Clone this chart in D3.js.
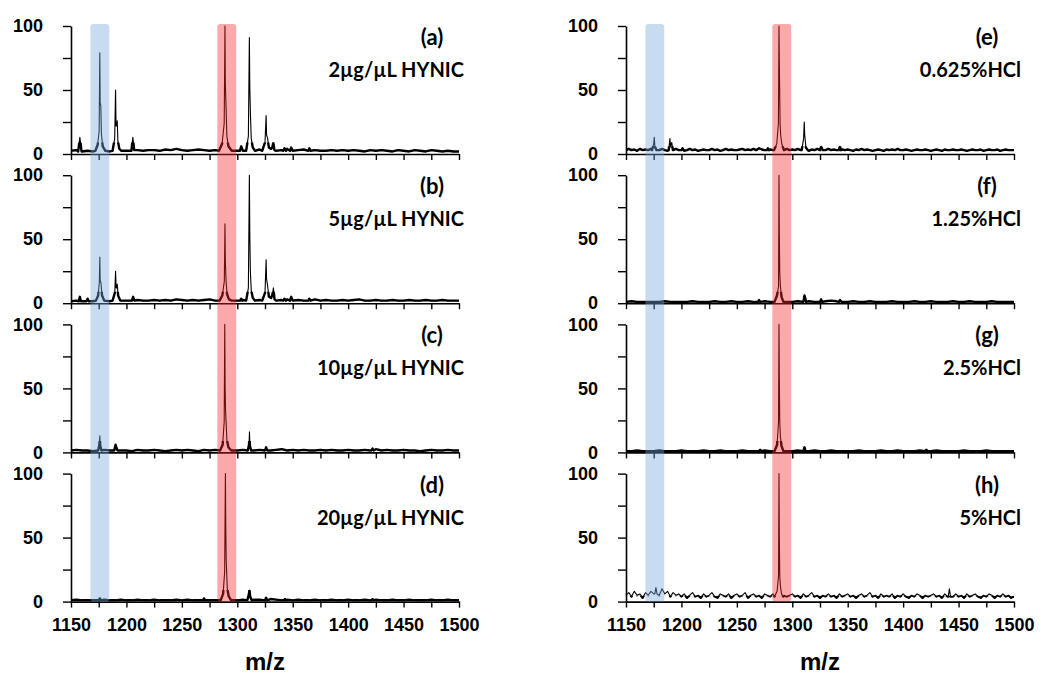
<!DOCTYPE html>
<html>
<head>
<meta charset="utf-8">
<script src="https://cdn.jsdelivr.net/npm/d3@7"></script>
<style>
  body { margin: 0; background: #fff; }
</style>
</head>
<body>
<svg id="chart" width="1041" height="675"></svg>
<script>
// ---- data ----
const xTicks = [1150,1175,1200,1225,1250,1275,1300,1325,1350,1375,1400,1425,1450,1475,1500];
const xLabels = [1150,1200,1250,1300,1350,1400,1450,1500];
const yTicks = [0,25,50,75,100];
const yLabels = [0,50,100];
const bandBlue = [1167.5, 1184.5];
const bandRed = [1282, 1299];

const panelIds = ["(a)","(b)","(c)","(d)","(e)","(f)","(g)","(h)"];
const panelNames = ["2µg/µL HYNIC","5µg/µL HYNIC","10µg/µL HYNIC","20µg/µL HYNIC",
                    "0.625%HCl","1.25%HCl","2.5%HCl","5%HCl"];

// baseline noise, evenly spaced from 1150 to 1500 (every 5 m/z, or every 2.5 for e and h)
const noiseA = [2.5,3,2,2.5,2,2.5,2,2,2.5,3, 2.5,2,3,2.5,3,3,2.5,3.5,3,4, 3,2.5,3,3.5,3,2.5,3,3.5,2.5,2.5,
  2.5,3,2.5,3,3.5,3,3.5,2.5,3,4, 2.5,3,3.5,2.5,3,2.5,2.5,3,2.5,3, 2.5,3,2.5,2,3,2.5,3,2.5,2,3, 2.5,2,3,2.5,2,3,2.5,2,2.5,2, 2];
const noiseB = [1.5,2,1.5,2,1.5,2,2,1.5,2,2, 2,1.5,2.5,2,2,2.5,2,2.5,2,3, 2.5,2,2.5,2,2.5,3,2,2.5,2,2,
  2,2.5,2,2.5,2.5,2,2.5,2,2.5,3, 2,2.5,2,2,3,2,2.5,2,2,2.5, 2,2.5,3,2,2,2.5,2,2,2.5,2, 2,2.5,2,2,2.5,2,2,2.5,2,2, 2];
const noiseC = [1.5,2,1.5,1.5,1,1.5,2,1.5,2,1.5, 1.5,1,2,1.5,1.5,2,1.5,1,1.5,2, 1.5,2,1.5,1,2,1.5,2,1.5,1,1.5,
  1.5,2,1.5,1.5,2,1.5,1.5,2,2.5,1.5, 2,1.5,2,1.5,1.5,2,1.5,2,1.5,1.5, 2,1.5,1.5,2,1.5,2.5,1.5,2,1.5,1.5, 2,1.5,1.5,1,1.5,2,1.5,1.5,2,1.5, 1.5];
const noiseD = [1,1.5,1,1,1,1,1.5,1,1,1.5, 1,1,1.5,1,1,1.5,1,1,1,1.5, 1,1.5,1,1,1.5,1,1,1.5,1,1,
  1,1.5,1,1.5,1.5,1,2,1.5,1,1.5, 1,1.5,1,1,1.5,1,1,1.5,1,1, 1.5,1,1,1.5,1,1.5,1,1,1.5,1, 1,1.5,1,1,1,1.5,1,1,1.5,1, 1];
const noiseE = [3,4,3,3.5,2.5,4,3,3.5,3,4, 3,3.5,3,4,3,2.5,3.5,3,4,3, 3.5,2.5,3,4,3,3.5,2.5,3,3.5,3,
  3,4,3,3.5,2.5,3,4,3,3.5,3, 3,3.5,4,3,3.5,3,4,3,4.5,3.5, 3,4,3.5,3,4,3,3.5,3,4,3,
  3.5,3,4,3,3.5,3,2.5,3.5,3,4, 3,3.5,3,4,3,3.5,3,4,3.5,3, 3.5,3,2.5,3.5,3,4,3,3.5,3,2.5,
  3,3.5,3,2.5,3.5,3,3.5,3,4,3, 3,3.5,3,2.5,3,3.5,3,3,3.5,3, 2.5,3,3.5,3,2.5,3.5,3,3,3.5,3,
  3,3.5,3,2.5,3,3.5,3,3,3.5,2.5, 3,3.5,3,3,3.5,2.5,3,3.5,3,3, 3];
const noiseF = [1,1.5,1,1,1,1,1,1.5,1,1, 1,1,1.5,1,1,1,1.5,1,1,1.5, 1,1,1.5,1,2,1.5,1,1,1,1,
  1,1.5,1,1.5,1,1,1.5,2,1.5,1, 1,1.5,1,1,1.5,1,1,1,1.5,1, 1,1,1.5,1,1,1.5,1,1,1,1.5, 1,1,1.5,1,1,1,1.5,1,1,1, 1];
const noiseG = [1,1,1.5,1,1,1,1.5,1,1,1, 1.5,1,1,1,1.5,1,1,1.5,1,1, 1,1.5,1,1,1,1.5,1,1,1,1,
  1,1.5,1,1,1.5,1,1,1.5,1,1, 1,1,1.5,1,1,1,1.5,1,1,1.5, 1,1,1,1.5,1,1,1.5,1,1,1, 1,1.5,1,1,1,1.5,1,1,1,1, 1];
const noiseH = [5,7,4,8,5,6,3,7,5,8, 6,9,5,10,6,8,4,7,5,6, 4,6,3,5,7,4,5,3,6,4, 5,7,4,3,6,5,4,6,3,5,
  6,4,5,7,3,5,6,4,5,3, 6,5,4,6,5,4,6,5,4,5, 6,4,5,3,6,4,5,7,4,5, 3,5,4,6,4,5,3,6,4,5,
  6,4,5,3,5,6,4,5,7,4, 5,3,6,4,5,4,6,3,5,4, 6,4,3,5,4,6,5,3,5,4, 5,6,4,5,3,6,4,5,4,6,
  4,5,3,6,4,5,6,4,3,5, 4,6,5,3,5,4,6,4,5,3, 4];

// peaks: each group is a run of [m/z, relative intensity] vertices
const peaksA = [
  [[1156.5,2],[1158,13],[1159.5,2]],
  [[1172,2.5],[1174,7],[1175.4,18],[1176,79],[1176.3,40],[1176.9,38],[1177.4,16],[1178.6,6],[1181,2.5]],
  [[1187.5,2.5],[1189.4,12],[1190.2,50],[1190.6,22],[1191.4,22],[1191.7,26],[1192.3,10],[1193.6,4],[1195.5,2.5]],
  [[1204.5,2.5],[1205.8,13],[1207,3]],
  [[1283.5,2.5],[1286.3,8],[1288.2,24],[1288.9,100],[1289.2,56],[1289.9,36],[1290.6,14],[1292,6],[1295,2.5]],
  [[1302.3,2.5],[1303.6,6],[1305,2.5]],
  [[1308,2.5],[1310,14],[1310.9,91],[1311.3,52],[1311.9,30],[1312.6,12],[1314,5],[1316,2.5]],
  [[1322.5,2.5],[1325,9],[1326,30],[1326.4,15],[1327.4,12],[1328.5,5],[1330.5,4],[1331.6,5],[1332.5,9],[1333.5,3]],
  [[1341.5,2.5],[1342.6,4.5],[1344,2.5]],
  [[1347.5,2.5],[1348.6,5],[1350,2.5]],
  [[1364,2.5],[1365,4.5],[1366,2.5]]
];
const peaksB = [
  [[1157,1.5],[1158,5],[1159,1.5]],
  [[1164,1.5],[1165,3.5],[1166,1.5]],
  [[1172.5,2],[1174.5,6],[1175.6,17],[1176,36],[1176.3,18],[1177,16],[1178,6],[1180,2]],
  [[1187.5,2],[1189.5,8],[1190.2,25],[1190.7,12],[1191.4,12],[1191.7,15],[1192.5,6],[1194.5,2]],
  [[1205,2],[1206,5],[1207.2,2]],
  [[1284,2],[1286.5,6],[1288.3,17],[1288.9,62],[1289.2,34],[1289.9,17],[1290.8,7],[1292.5,3],[1295,2]],
  [[1302.5,2],[1303.5,3.5],[1304.5,2]],
  [[1308,2],[1310,12],[1310.9,100],[1311.3,53],[1311.8,25],[1312.6,10],[1314,4],[1316,2]],
  [[1322.5,2],[1325,8],[1326,34],[1326.4,19],[1327.3,14],[1328.5,5],[1330.5,4],[1331.8,7],[1332.6,12],[1333.6,3]],
  [[1341.5,2],[1342.6,3.5],[1344,2]],
  [[1347.5,2],[1348.6,5],[1350,2]],
  [[1364,2],[1365,3.5],[1366,2]]
];
const peaksC = [
  [[1174.5,1.5],[1175.6,6],[1176,13],[1176.4,5],[1177.5,1.5]],
  [[1189,1.5],[1190.2,6],[1190.8,4],[1192,1.5]],
  [[1284.5,1.5],[1286.8,6],[1288.2,24],[1288.7,100],[1289,53],[1289.4,33],[1289.9,24],[1290.6,10],[1292,4],[1294.5,1.5]],
  [[1309.5,1.5],[1310.6,6],[1311,16],[1311.4,5],[1312.5,1.5]],
  [[1325,1.5],[1326,4],[1327,1.5]],
  [[1421,1.5],[1422,3],[1423,1.5]]
];
const peaksD = [
  [[1175,1],[1176,2.5],[1177,1]],
  [[1269,1],[1270,2.5],[1271,1]],
  [[1285,1],[1287.2,6],[1288.6,23],[1289.3,100],[1289.6,59],[1290,33],[1290.4,23],[1291,10],[1292.3,4],[1294.5,1]],
  [[1309,1],[1310.3,5],[1311,9],[1311.6,4],[1313,1]],
  [[1325,1],[1326,3],[1327,1]],
  [[1342,1],[1343,2],[1344,1]],
  [[1421,1],[1422,2],[1423,1]]
];
const peaksE = [
  [[1173.5,3],[1175,8],[1175.5,13],[1176,6],[1177.5,3]],
  [[1188.5,3],[1189.6,12],[1190.2,6],[1191.3,9],[1192.3,3]],
  [[1200,3],[1201,4.5],[1202,3]],
  [[1277,3],[1278,4.5],[1279,3]],
  [[1283.5,3],[1286,8],[1287.5,24],[1288,100],[1288.3,72],[1288.6,52],[1289,24],[1289.5,15],[1290.5,8],[1292.5,3]],
  [[1308.5,3],[1310.2,12],[1310.8,25],[1311.2,15],[1312.3,5],[1314,3]],
  [[1325,3],[1326,6],[1327.5,3]],
  [[1342,3],[1343,6],[1344,3]]
];
const peaksF = [
  [[1269,1],[1270,2.5],[1271,1]],
  [[1284,1],[1286.2,6],[1287.6,13],[1288,100],[1288.3,54],[1288.7,24],[1289.3,13],[1290.3,5],[1292,1]],
  [[1310,1],[1311,6],[1312.5,1]],
  [[1325,1],[1326,3],[1327,1]],
  [[1342,1],[1343,2.5],[1344.5,1]]
];
const peaksG = [
  [[1270,1],[1271,2],[1272,1]],
  [[1284,1],[1286.3,6],[1287.6,24],[1288,100],[1288.3,59],[1288.7,24],[1289.3,12],[1290.3,5],[1292,1]],
  [[1310,1],[1311,4],[1312,1]],
  [[1420,1],[1421,2],[1422,1]]
];
const peaksH = [
  [[1176,6],[1177,11],[1178,6]],
  [[1284,4],[1286.3,8],[1287.6,20],[1288,100],[1288.3,52],[1288.7,20],[1289.3,12],[1290.3,6],[1292,4]],
  [[1440.7,4],[1441.7,10],[1442.7,4]]
];

const noiseAll = [noiseA,noiseB,noiseC,noiseD,noiseE,noiseF,noiseG,noiseH];
const peaksAll = [peaksA,peaksB,peaksC,peaksD,peaksE,peaksF,peaksG,peaksH];

// ---- layout ----
const svg = d3.select("#chart");
const columns = [{x0: 71, x1: 459}, {x0: 626, x1: 1014}];
const rowTop = 26, rowH = 128, rowStep = 149.2;
const tickFont = "'Liberation Sans', Arial, sans-serif";
const labelFont = "Lato, 'Open Sans', sans-serif";
// how high the heavy (dense) part of each trace reaches
const heavyLevel = [9, 9, 9, 9, 6, 9, 9, 4.5];
const defs = svg.append("defs");

columns.forEach((col, c) => {
  const x = d3.scaleLinear().domain([1150, 1500]).range([col.x0, col.x1]);

  for (let r = 0; r < 4; r++) {
    const k = c * 4 + r;
    const top = rowTop + r * rowStep;
    const y = d3.scaleLinear().domain([0, 100]).range([top + rowH, top]);
    const g = svg.append("g");

    // spectrum: baseline noise outside the peaks, plus the peak vertices
    const groups = peaksAll[k];
    const noise = noiseAll[k];
    const step = 350 / (noise.length - 1);
    const base = noise.map((v, i) => [1150 + i * step, v])
      .filter(p => !groups.some(gr => p[0] >= gr[0][0] && p[0] <= gr[gr.length - 1][0]));
    const pts = base.concat(...groups).sort((a, b) => a[0] - b[0]);
    const line = d3.line().x(d => x(d[0])).y(d => y(d[1]));

    // the dense low part of the trace reads as a heavier band
    const clipId = "low" + k;
    defs.append("clipPath").attr("id", clipId).append("rect")
      .attr("x", col.x0).attr("width", col.x1 - col.x0)
      .attr("y", y(heavyLevel[k])).attr("height", y(0) - y(heavyLevel[k]));
    g.append("path")
      .datum(pts)
      .attr("clip-path", `url(#${clipId})`)
      .attr("fill", "none").attr("stroke", "#000")
      .attr("stroke-width", 2.4).attr("stroke-linejoin", "round")
      .attr("d", line);
    g.append("path")
      .datum(pts)
      .attr("fill", "none").attr("stroke", "#000")
      .attr("stroke-width", 1.1).attr("stroke-linejoin", "round")
      .attr("d", line);

    // axes
    const yAxis = d3.axisLeft(y).tickValues(yTicks).tickSize(8).tickSizeOuter(0).tickPadding(20)
      .tickFormat(d => yLabels.includes(d) ? d : "");
    const ga = g.append("g").attr("transform", `translate(${col.x0},0)`).call(yAxis);

    const xAxis = d3.axisBottom(x).tickValues(xTicks).tickSize(6).tickSizeOuter(0).tickPadding(11)
      .tickFormat(d => (r === 3 && xLabels.includes(d)) ? d : "");
    const gx = g.append("g").attr("transform", `translate(0,${top + rowH})`).call(xAxis);

    [ga, gx].forEach(a => {
      a.select(".domain").attr("stroke-width", 1.6);
      a.selectAll(".tick line").attr("stroke-width", 1.4);
      a.selectAll("text").attr("font-family", tickFont).attr("font-weight", "bold")
        .attr("font-size", 18).attr("fill", "#000");
    });

    // panel labels
    g.append("text")
      .attr("x", c === 0 ? 432 : 987).attr("y", top + 19)
      .attr("text-anchor", "middle")
      .attr("font-family", labelFont).attr("font-weight", "bold").attr("font-size", 22)
      .text(panelIds[k]);
    g.append("text")
      .attr("x", c === 0 ? 464 : 1021).attr("y", top + 51)
      .attr("text-anchor", "end")
      .attr("font-family", labelFont).attr("font-weight", "bold").attr("font-size", 20)
      .text(panelNames[k]);
  }

  // highlight bands across all four panels
  const bandTop = rowTop - 2, bandBottom = rowTop + 3 * rowStep + rowH;
  [[bandBlue, "rgb(117,167,217)"], [bandRed, "rgb(242,42,42)"]].forEach(([b, color]) => {
    svg.append("rect")
      .attr("x", x(b[0])).attr("width", x(b[1]) - x(b[0]))
      .attr("y", bandTop).attr("height", bandBottom - bandTop)
      .attr("rx", 3)
      .attr("fill", color).attr("fill-opacity", 0.4);
  });

  // axis title
  svg.append("text")
    .attr("x", (col.x0 + col.x1) / 2).attr("y", 670)
    .attr("text-anchor", "middle")
    .attr("font-family", tickFont).attr("font-weight", "bold").attr("font-size", 24)
    .text("m/z");
});
</script>
</body>
</html>
